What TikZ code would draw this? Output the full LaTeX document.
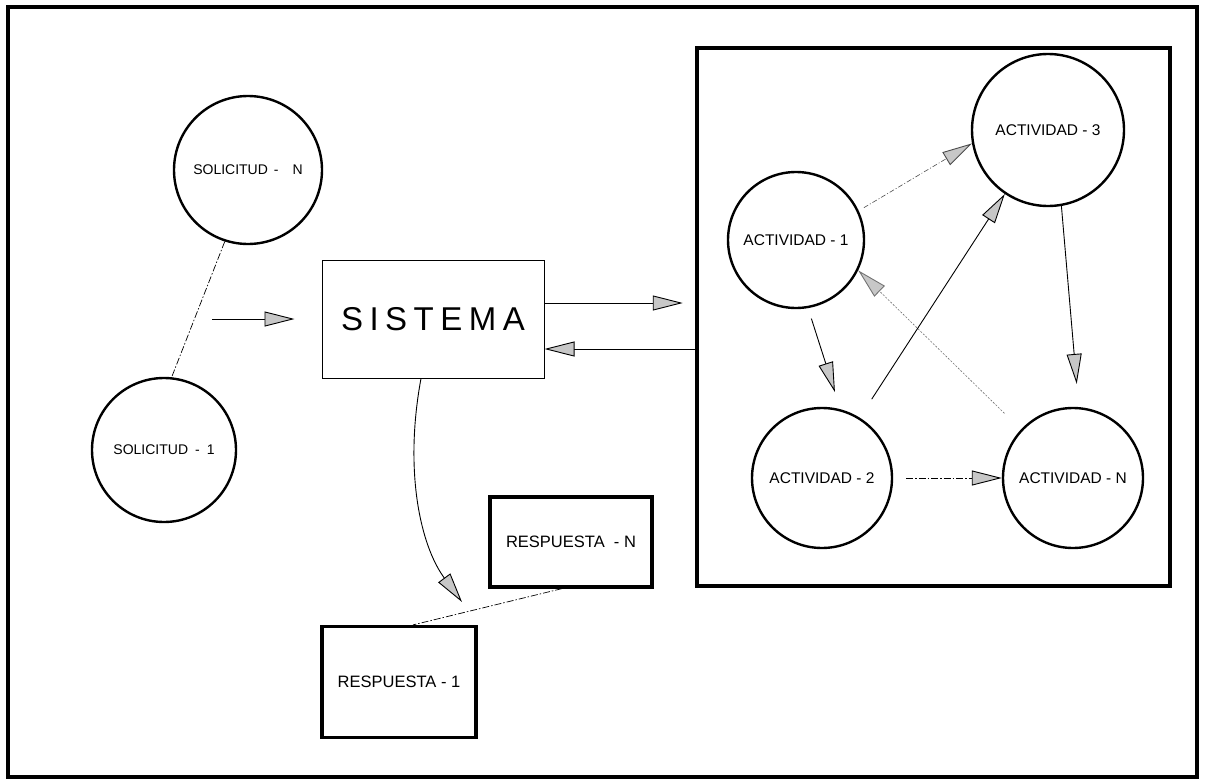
\documentclass[tikz,border=0pt]{standalone}
\usepackage{fontspec}
\setmainfont{Liberation Sans}
\usetikzlibrary{arrows.meta,calc}
\begin{document}
\begin{tikzpicture}[x=1pt,y=-1pt,
  lbl/.style={font=\fontsize{14}{16}\selectfont},
  actlbl/.style={font=\fontsize{15.5}{17}\selectfont},
  ring/.style={draw, circle, line width=2.4pt, inner sep=0pt},
  thinbox/.style={draw, rectangle, line width=1pt, inner sep=0pt},
  thickbox/.style={draw, rectangle, line width=3.2pt, inner sep=0pt, font=\fontsize{16.5}{18}\selectfont},
  tip/.style={-{Triangle[length=30pt,width=15pt,fill=black!22,line width=0.9pt]}},
  plain/.style={tip, line width=0.9pt},
  dashdot/.style={line width=0.7pt, dash pattern=on 7pt off 2pt on 1.5pt off 2pt},
  faint/.style={line width=0.6pt, draw=black!55, dash pattern=on 2pt off 1.5pt},
]
% page and outer frame
\path[use as bounding box] (0,0) rectangle (1205,784);
\draw[line width=4pt] (8,7) rectangle (1197,777);

% requests
\node[ring, lbl, minimum size=148pt] (solN) at (248,170) {SOLICITUD\hspace{6pt}-\hspace{14pt}N};
\node[ring, lbl, minimum size=144pt] (sol1) at (164,450) {SOLICITUD\hspace{7pt}-\hspace{7pt}1};
\draw[dashdot] (solN.-108) -- (sol1.84);

% system
\node[thinbox, minimum width=222pt, minimum height=118pt,
      font=\fontsize{33}{36}\selectfont] (sis) at (433,319)
  {S\kern6.5pt I\kern6.5pt S\kern6.5pt T\kern6.5pt E\kern6.5pt M\kern6.5pt A};
\coordinate (inA) at (212,319);
\draw[plain, shorten >=27pt] (inA) -- (sis.west);

% responses
\node[thickbox, minimum width=162pt, minimum height=90pt] (respN) at (571,542) {RESPUESTA \ - N};
\node[thickbox, minimum width=154pt, minimum height=111pt] (resp1) at (399,682) {RESPUESTA - 1};
\draw[dashdot] ([xshift=-9pt]respN.south) -- ([xshift=14pt]resp1.north);
\coordinate (outA) at (462,602);
\draw[plain] ([xshift=-12pt]sis.south) .. controls (404,470) and (420,545) .. (outA);

% activity group
\node[draw, rectangle, line width=4.5pt, inner sep=0pt,
      minimum width=473pt, minimum height=538pt] (grp) at (933.5,317) {};
\draw[plain, shorten >=12pt] ([yshift=16pt]sis.east) -- ([yshift=16pt]sis.east -| grp.west);
\draw[plain] ([yshift=-30pt]sis.east -| grp.west) -- ([yshift=-30pt]sis.east);

\node[ring, actlbl, minimum size=136pt] (a1) at (796,240) {ACTIVIDAD - 1};
\node[ring, actlbl, minimum size=152pt] (a3) at (1048,130) {ACTIVIDAD - 3};
\node[ring, actlbl, minimum size=140pt] (a2) at (822,478) {ACTIVIDAD - 2};
\node[ring, actlbl, minimum size=140pt] (aN) at (1073,478) {ACTIVIDAD - N};

\draw[tip, line width=0.6pt, draw=black!70, dash pattern=on 5pt off 2pt on 1pt off 2pt,
      shorten <=6pt] (a1.25) -- (a3.190);
\draw[plain, shorten <=11pt, shorten >=18pt] (a1.-80) -- (a2.75);
\draw[plain, shorten <=22pt] (a2.58) -- (a3.-124);
\draw[plain] (a3.-80) -- ([yshift=23pt]aN.87);
\draw[tip, faint, shorten <=23pt] (aN.137) -- (a1.-26);
\draw[tip, dashdot, shorten <=13pt] (a2.0) -- (aN.180);
\end{tikzpicture}
\end{document}
